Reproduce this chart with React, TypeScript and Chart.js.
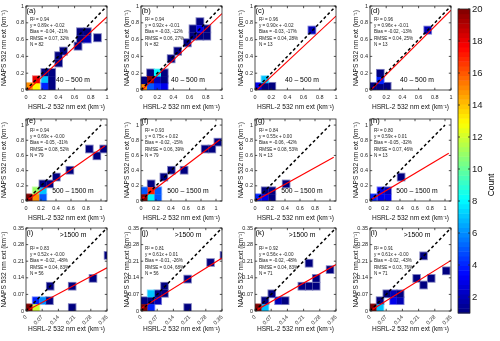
import React, { useEffect, useRef } from "react";
import { Chart, registerables } from "chart.js";

Chart.register(...registerables);

const FONT = '"Liberation Sans", Arial, Helvetica, sans-serif';

// ---------------- data ----------------
const panelLabels = ["(a)", "(b)", "(c)", "(d)", "(e)", "(f)", "(g)", "(h)", "(i)", "(j)", "(k)", "(l)"];
const layerLabels = ["40 – 500 m", "500 – 1500 m", ">1500 m"];
const r2Texts = ["0.94", "0.94", "0.96", "0.96", "0.94", "0.93", "0.84", "0.80", "0.83", "0.81", "0.92", "0.91"];
const fitSlopes = [0.89, 0.92, 0.9, 0.96, 0.69, 0.75, 0.55, 0.59, 0.52, 0.61, 0.56, 0.61];
const fitIntercepts = [-0.02, -0.01, -0.02, -0.01, -0.0, 0.02, 0.0, 0.01, -0.0, 0.01, -0.0, -0.0];
const fitTexts = ["0.89x + -0.02", "0.92x + -0.01", "0.90x + -0.02", "0.96x + -0.01", "0.69x + -0.00", "0.75x + 0.02", "0.55x + 0.00", "0.59x + 0.01", "0.52x + -0.00", "0.61x + 0.01", "0.56x + -0.00", "0.61x + -0.00"];
const biasTexts = ["-0.04, -21%", "-0.03, -12%", "-0.03, -17%", "-0.02, -13%", "-0.05, -31%", "-0.02, -15%", "-0.06, -42%", "-0.05, -32%", "-0.02, -48%", "-0.01, -26%", "-0.02, -48%", "-0.02, -43%"];
const rmseTexts = ["0.07, 32%", "0.06, 27%", "0.04, 28%", "0.04, 25%", "0.08, 52%", "0.06, 39%", "0.08, 53%", "0.07, 46%", "0.04, 83%", "0.04, 68%", "0.04, 83%", "0.03, 76%"];
const nValues = [82, 82, 13, 13, 79, 79, 13, 13, 56, 56, 71, 71];

// axis ranges per row (km^-1)
const rowAxisMax = [1, 1.08, 0.35];
const rowDiagEnd = [1, 1, 0.35];
const rowFitEnd = [1, 1.05, 0.35];
const rowBinWidth = [0.085, 0.09, 0.029];

const ticksWide = [0, 0.2, 0.4, 0.6, 0.8, 1];
const ticksWideLabels = ["0", "0.2", "0.4", "0.6", "0.8", "1"];
const ticksNarrow = [0, 0.07, 0.14, 0.21, 0.28, 0.35];
const ticksNarrowLabels = ["0", "0.07", "0.14", "0.21", "0.28", "0.35"];

// 2-D histogram cells: [bin left edge x, bin bottom edge y, count]
const cellsA = [[0, 0, 15], [0.085, 0, 13], [0.085, 0.08, 18], [0.19, 0.08, 7], [0.19, 0, 4], [0.275, 0, 1], [0.275, 0.08, 1], [0.19, 0.165, 1], [0.275, 0.165, 1], [0.36, 0.28, 1], [0.36, 0.365, 1], [0.42, 0.42, 1], [0.6, 0.48, 1], [0.63, 0.565, 1], [0.715, 0.565, 2], [0.63, 0.65, 1], [0.715, 0.65, 1], [0.84, 0.58, 1]];
const cellsB = [[0, 0, 15], [0, 0.07, 1], [0.075, 0, 5], [0.16, 0, 4], [0.245, 0, 3], [0.16, 0.08, 2], [0.245, 0.08, 1], [0.245, 0.16, 1], [0.075, 0.16, 1], [0.075, 0.08, 20], [0.16, 0.16, 8], [0.33, 0.33, 1], [0.41, 0.42, 1], [0.53, 0.52, 1], [0.6, 0.6, 1], [0.685, 0.6, 1], [0.77, 0.6, 1], [0.77, 0.685, 1], [0.685, 0.77, 1], [0.6, 0.685, 1], [0.685, 0.685, 3]];
const cellsC = [[0, 0, 3], [0.08, 0, 1], [0.165, 0, 1], [0.08, 0.08, 7], [0.66, 0.67, 2]];
const cellsD = [[0, 0, 1], [0.085, 0, 1], [0.17, 0, 1], [0.085, 0.155, 1], [0.085, 0.07, 4], [0.67, 0.67, 2]];
const cellsE = [[0, 0, 20], [0.09, 0, 15], [0.09, 0.09, 11], [0.18, 0.09, 7], [0.18, 0, 5], [0.18, 0.18, 1], [0.27, 0.18, 1], [0.36, 0.27, 1], [0.54, 0.36, 1], [0.8, 0.64, 1], [0.9, 0.55, 1], [0.99, 0.64, 1]];
const cellsF = [[0, 0, 20], [0, 0.09, 5], [0.09, 0, 8], [0.18, 0, 5], [0.18, 0.09, 5], [0.09, 0.18, 1], [0.09, 0.09, 17], [0.26, 0.27, 1], [0.36, 0.36, 1], [0.53, 0.36, 1], [0.81, 0.64, 1], [0.9, 0.64, 1], [0.98, 0.73, 1]];
const cellsG = [[0, 0, 4], [0.09, 0, 3], [0.18, 0, 1], [0.09, 0.09, 1], [0.18, 0.09, 1], [0.37, 0.18, 1]];
const cellsH = [[0, 0, 4], [0.1, 0, 3], [0.19, 0, 3], [0.1, 0.09, 3], [0.19, 0.09, 2], [0.37, 0.27, 1]];
const cellsI = [[0, 0, 20], [0.029, 0, 12], [0.029, 0.029, 4], [0.058, 0.029, 6], [0.087, 0.029, 1], [0.09, 0.09, 1], [0.185, 0.09, 1], [0.185, 0, 1], [0.275, 0.123, 1], [0.34, 0.22, 1]];
const cellsJ = [[0, 0, 20], [0.029, 0, 4], [0, 0.029, 1], [0.029, 0.029, 1], [0.058, 0.029, 2], [0.058, 0.058, 1], [0.029, 0.058, 7], [0.087, 0.06, 1], [0.087, 0.09, 1], [0.187, 0.12, 1], [0.187, 0, 1], [0.286, 0.19, 1], [0.344, 0.22, 1]];
const cellsK = [[0, 0, 20], [0.029, 0, 7], [0.029, 0.029, 1], [0.058, 0.058, 1], [0.087, 0.029, 2], [0.116, 0.029, 1], [0.219, 0.187, 1], [0.188, 0.09, 1], [0.219, 0.09, 1], [0.25, 0.09, 1], [0.25, 0.123, 1], [0.31, 0.16, 1]];
const cellsL = [[0, 0, 20], [0.029, 0, 7], [0.029, 0.029, 1], [0.058, 0.058, 1], [0.087, 0.029, 3], [0.116, 0.029, 2], [0.087, 0.058, 2], [0.116, 0.058, 1], [0.217, 0.218, 1], [0.187, 0.123, 1], [0.217, 0.095, 1], [0.25, 0.123, 1], [0.315, 0.155, 1]];
const panelCells = [cellsA, cellsB, cellsC, cellsD, cellsE, cellsF, cellsG, cellsH, cellsI, cellsJ, cellsK, cellsL];

const countMin = 1;
const countMax = 20;
const colorbarTicks = [2, 4, 6, 8, 10, 12, 14, 16, 18, 20];

// ---------------- layout (pixels) ----------------
const colPlotLeft = [26, 141, 255, 370];
const rowPlotTop = [6, 119, 228];
const rowPlotH = [84, 82, 83];
const PLOT_W = 81;
const Y_AXIS_W = 26;
const PAD_TOP = 4;
const PAD_RIGHT = 6;
const rowXAxisH = [22, 22, 26];
const colYTitlePad = [0, 8, 8, 8];

function jetRGB(t: number): number[] {
  const c = (v: number) => Math.max(0, Math.min(1, v));
  const r = c(Math.min(4 * t - 1.5, -4 * t + 4.5));
  const g = c(Math.min(4 * t - 0.5, -4 * t + 3.5));
  const b = c(Math.min(4 * t + 0.5, -4 * t + 2.5));
  return [r * 255, g * 255, b * 255];
}
const rgbStr = (c: number[]) => `rgb(${Math.round(c[0])},${Math.round(c[1])},${Math.round(c[2])})`;
const jet = (t: number) => rgbStr(jetRGB(t));
const countRGB = (n: number) => jetRGB((n - countMin) / (countMax - countMin));

function Panel({ idx }: { idx: number }) {
  const ref = useRef<HTMLCanvasElement>(null);
  const row = Math.floor(idx / 4);
  const col = idx % 4;
  const W = Y_AXIS_W + PLOT_W + PAD_RIGHT;
  const H = PAD_TOP + rowPlotH[row] + rowXAxisH[row];
  const left = colPlotLeft[col] - Y_AXIS_W;
  const top = rowPlotTop[row] - PAD_TOP;

  useEffect(() => {
    const axMax = rowAxisMax[row];
    const tickVals = row === 2 ? ticksNarrow : ticksWide;
    const tickLabels = row === 2 ? ticksNarrowLabels : ticksWideLabels;
    const bin = rowBinWidth[row];
    const a = fitSlopes[idx];
    const b = fitIntercepts[idx];
    const fitEnd = rowFitEnd[row];
    const diagEnd = rowDiagEnd[row];

    const cellPlugin = {
      id: "cells",
      beforeDatasetsDraw(chart: any) {
        const { ctx, chartArea, scales } = chart;
        const xs = scales.x, ys = scales.y;
        ctx.save();
        ctx.beginPath();
        ctx.rect(chartArea.left, chartArea.top, chartArea.right - chartArea.left, chartArea.bottom - chartArea.top);
        ctx.clip();
        const rects = panelCells[idx].map(([cx, cy, n]) => {
          const x0 = xs.getPixelForValue(cx);
          const x1 = xs.getPixelForValue(cx + bin);
          const y0 = ys.getPixelForValue(cy);
          const y1 = ys.getPixelForValue(cy + bin);
          return { x: x0, y: y1, w: x1 - x0, h: y0 - y1, c: countRGB(n) };
        });
        for (const r of rects) {
          const f = r.c.map((v) => v * 0.5 + 255 * 0.5);
          ctx.fillStyle = rgbStr(f);
          ctx.fillRect(r.x - 0.9, r.y - 0.9, r.w + 1.8, r.h + 1.8);
        }
        for (const r of rects) {
          ctx.fillStyle = rgbStr(r.c);
          ctx.fillRect(r.x, r.y, r.w, r.h);
        }
        ctx.restore();
      },
      afterDatasetsDraw(chart: any) {
        const { ctx, chartArea, scales } = chart;
        const { left: l, right: r, top: t, bottom: bt } = chartArea;
        ctx.save();
        ctx.strokeStyle = "#262626";
        ctx.lineWidth = 0.8;
        ctx.strokeRect(l, t, r - l, bt - t);
        const tl = 2.2;
        ctx.beginPath();
        for (const tk of scales.x.ticks) {
          const px = scales.x.getPixelForValue(tk.value);
          ctx.moveTo(px, bt); ctx.lineTo(px, bt - tl);
          ctx.moveTo(px, t); ctx.lineTo(px, t + tl);
        }
        for (const tk of scales.y.ticks) {
          const py = scales.y.getPixelForValue(tk.value);
          ctx.moveTo(l, py); ctx.lineTo(l + tl, py);
          ctx.moveTo(r, py); ctx.lineTo(r - tl, py);
        }
        ctx.stroke();
        ctx.fillStyle = "#000";
        ctx.textBaseline = "middle";
        ctx.textAlign = "left";
        ctx.font = `7.5px ${FONT}`;
        ctx.fillText(panelLabels[idx], l + 0.5, t + (row === 1 ? 2 : 4.5));
        ctx.font = `4.6px ${FONT}`;
        ctx.fillStyle = "#1a1a1a";
        const statsTop = t + (row === 0 ? 14 : row === 1 ? 12 : 21);
        const lines = [
          `R² = ${r2Texts[idx]}`,
          `y = ${fitTexts[idx]}`,
          `Bias = ${biasTexts[idx]}`,
          `RMSE = ${rmseTexts[idx]}`,
          `N = ${nValues[idx]}`,
        ];
        lines.forEach((s, i) => ctx.fillText(s, l + 4, statsTop + i * 6.1));
        ctx.font = `6.8px ${FONT}`;
        ctx.fillStyle = "#000";
        ctx.textAlign = "center";
        const lx = l + 47;
        const ly = row === 2 ? t + 7 : bt - 9.5;
        ctx.fillText(layerLabels[row], lx, ly);
        ctx.restore();
      },
    };

    const chart = new Chart(ref.current!, {
      type: "scatter",
      data: {
        datasets: [
          {
            data: [{ x: 0, y: 0 }, { x: diagEnd, y: diagEnd }],
            showLine: true,
            borderColor: "#000",
            borderWidth: 1.5,
            borderDash: [3, 2.5],
            pointRadius: 0,
          },
          {
            data: [{ x: 0, y: b }, { x: fitEnd, y: a * fitEnd + b }],
            showLine: true,
            borderColor: "#ff0000",
            borderWidth: 1.1,
            pointRadius: 0,
          },
        ],
      },
      options: {
        animation: false,
        responsive: false,
        devicePixelRatio: 1,
        layout: { padding: { top: PAD_TOP, right: PAD_RIGHT, left: 0, bottom: 0 } },
        plugins: { legend: { display: false }, tooltip: { enabled: false } },
        scales: {
          x: {
            type: "linear",
            min: 0,
            max: axMax,
            afterBuildTicks: (s: any) => { s.ticks = tickVals.map((v) => ({ value: v })); },
            afterFit: (s: any) => { s.height = rowXAxisH[row]; s.paddingLeft = 0; s.paddingRight = 0; },
            grid: { display: false, drawTicks: false, tickLength: 0 },
            border: { display: false },
            ticks: {
              autoSkip: false,
              font: { family: FONT, size: 5.5 },
              color: "#222",
              padding: row === 2 ? 3 : 4,
              maxRotation: row === 2 ? 45 : 0,
              minRotation: row === 2 ? 45 : 0,
              callback: (_v: any, i: number) => tickLabels[i],
            },
            title: {
              display: true,
              text: "HSRL-2 532 nm ext (km⁻¹)",
              font: { family: FONT, size: 6.6 },
              color: "#111",
              padding: { top: 0, bottom: row === 2 ? 3.5 : 0.5 },
            },
          },
          y: {
            type: "linear",
            min: 0,
            max: axMax,
            afterBuildTicks: (s: any) => { s.ticks = tickVals.map((v) => ({ value: v })); },
            afterFit: (s: any) => { s.width = Y_AXIS_W; s.paddingTop = 0; s.paddingBottom = 0; },
            grid: { display: false, drawTicks: false, tickLength: 0 },
            border: { display: false },
            ticks: {
              autoSkip: false,
              font: { family: FONT, size: 5.5 },
              color: "#222",
              padding: 2,
              callback: (_v: any, i: number) => tickLabels[i],
            },
            title: {
              display: true,
              text: "NAAPS 532 nm ext (km⁻¹)",
              font: { family: FONT, size: 6.6 },
              color: "#111",
              padding: { top: colYTitlePad[col], bottom: 0 },
            },
          },
        },
      } as any,
      plugins: [cellPlugin],
    });
    return () => chart.destroy();
  }, []);

  return (
    <canvas
      ref={ref}
      width={W}
      height={H}
      style={{ position: "absolute", left, top, width: W, height: H }}
    />
  );
}

function ColorBar() {
  const ref = useRef<HTMLCanvasElement>(null);
  const W = 50;
  const H = 341;
  useEffect(() => {
    const cbPlugin = {
      id: "colorbar",
      beforeDatasetsDraw(chart: any) {
        const { ctx, chartArea, scales } = chart;
        const ys = scales.y;
        const levels = 64;
        ctx.save();
        for (let k = 0; k < levels; k++) {
          const v0 = countMin + ((countMax - countMin) * k) / levels;
          const v1 = countMin + ((countMax - countMin) * (k + 1)) / levels;
          const p0 = ys.getPixelForValue(v0);
          const p1 = ys.getPixelForValue(v1);
          ctx.fillStyle = jet((k + 0.5) / levels);
          ctx.fillRect(chartArea.left, p1, chartArea.right - chartArea.left, p0 - p1 + 0.5);
        }
        ctx.restore();
      },
      afterDatasetsDraw(chart: any) {
        const { ctx, chartArea, scales } = chart;
        const { left: l, right: r, top: t, bottom: b } = chartArea;
        ctx.save();
        ctx.strokeStyle = "#262626";
        ctx.lineWidth = 0.8;
        ctx.strokeRect(l, t, r - l, b - t);
        ctx.beginPath();
        for (const tk of scales.y.ticks) {
          const py = scales.y.getPixelForValue(tk.value);
          ctx.moveTo(l, py); ctx.lineTo(l + 2, py);
          ctx.moveTo(r, py); ctx.lineTo(r - 2, py);
        }
        ctx.stroke();
        ctx.translate(r + 22, (t + b) / 2 + 24);
        ctx.rotate(-Math.PI / 2);
        ctx.fillStyle = "#000";
        ctx.font = `8.5px ${FONT}`;
        ctx.textAlign = "center";
        ctx.textBaseline = "middle";
        ctx.fillText("Count", 0, 0);
        ctx.restore();
      },
    };
    const chart = new Chart(ref.current!, {
      type: "scatter",
      data: { datasets: [] },
      options: {
        animation: false,
        responsive: false,
        devicePixelRatio: 1,
        layout: { padding: { left: 8, top: 9, bottom: 28, right: 0 } },
        plugins: { legend: { display: false }, tooltip: { enabled: false } },
        scales: {
          x: { display: false, min: 0, max: 1 },
          y: {
            position: "right",
            min: countMin,
            max: countMax,
            afterBuildTicks: (s: any) => { s.ticks = colorbarTicks.map((v) => ({ value: v })); },
            afterFit: (s: any) => { s.width = 30; s.paddingTop = 0; s.paddingBottom = 0; },
            grid: { display: false, drawTicks: false, tickLength: 0 },
            border: { display: false },
            ticks: { font: { family: FONT, size: 9.5 }, color: "#222", padding: 2, autoSkip: false },
          },
        },
      } as any,
      plugins: [cbPlugin],
    });
    return () => chart.destroy();
  }, []);
  return (
    <canvas
      ref={ref}
      width={W}
      height={H}
      style={{ position: "absolute", left: 450, top: 0, width: W, height: H }}
    />
  );
}

export default function App() {
  return (
    <div style={{ position: "absolute", left: 0, top: 0, width: 500, height: 341, background: "#fff", overflow: "hidden" }}>
      {panelLabels.map((_, i) => (
        <Panel key={i} idx={i} />
      ))}
      <ColorBar />
    </div>
  );
}
